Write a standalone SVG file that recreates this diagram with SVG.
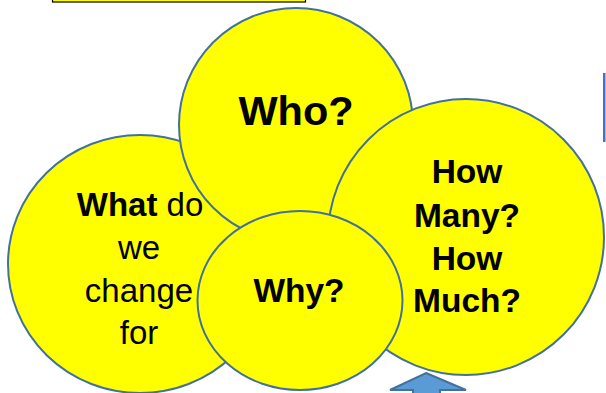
<svg xmlns="http://www.w3.org/2000/svg" width="606" height="393" viewBox="0 0 606 393">
<style>
.c{fill:#FFFF00;stroke:#41719C;stroke-width:2}
.t{font-family:"Liberation Sans",Arial,sans-serif;fill:#000;text-anchor:middle}
.b{font-weight:bold}
</style>
<rect width="606" height="393" fill="#fff"/>
<g id="title-box"><rect x="52.5" y="-10" width="253" height="12" fill="#FFFF00" stroke="#000" stroke-width="1.2"/></g>
<g id="side-box"><rect x="603" y="73" width="2.5" height="69" fill="#4472C4"/></g>
<g id="what">
<ellipse class="c" cx="140" cy="264" rx="132" ry="129"/>
<text class="t" font-size="33" x="140" y="216"><tspan class="b">What</tspan> do</text>
<text class="t" font-size="33" x="139" y="259">we</text>
<text class="t" font-size="33" x="139" y="302">change</text>
<text class="t" font-size="33" x="139" y="344">for</text>
</g>
<g id="who">
<ellipse class="c" cx="296" cy="125" rx="117" ry="117"/>
<text class="t b" font-size="41.5" x="296" y="125">Who?</text>
</g>
<g id="howmany">
<ellipse class="c" cx="466" cy="237" rx="138" ry="138"/>
<text class="t b" font-size="33.5" x="467" y="183">How</text>
<text class="t b" font-size="33.5" x="467" y="227">Many?</text>
<text class="t b" font-size="33.5" x="467" y="270">How</text>
<text class="t b" font-size="33.5" x="467" y="312">Much?</text>
</g>
<g id="why">
<ellipse class="c" cx="300" cy="300.5" rx="102.5" ry="89.5"/>
<text class="t b" font-size="33.5" x="299" y="302">Why?</text>
</g>
<g id="connectors">
<polygon points="426,373 466,390 440,390 440,400 413,400 413,390 390,390" fill="#5B9BD5" stroke="#41719C" stroke-width="2"/>
</g>
</svg>
